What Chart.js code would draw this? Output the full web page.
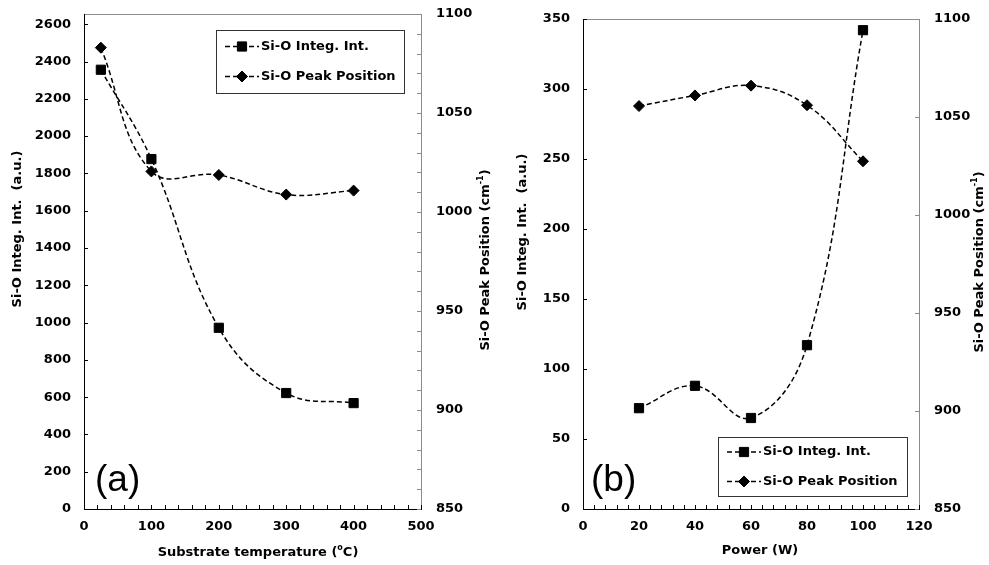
<!DOCTYPE html>
<html>
<head>
<meta charset="utf-8">
<title>Si-O band vs temperature and power</title>
<script src="https://cdn.jsdelivr.net/npm/chart.js@4.4.0/dist/chart.umd.min.js"></script>
<style>
    body { margin: 0; background: #ffffff; }
    .panel { position: absolute; top: 0; height: 565px; }
    #panelA { left: 0; width: 495px; }
    #panelB { left: 495px; width: 494px; }
</style>
</head>
<body>
<div class="panel" id="panelA"><canvas id="chartA"></canvas></div>
<div class="panel" id="panelB"><canvas id="chartB"></canvas></div>
<script>
// --- data ---
// (a) substrate temperature series
const tempC = [25, 100, 200, 300, 400];
const tempIntegInt = [2356, 1877, 972, 622, 568];
const tempPeakPos = [1083, 1020.5, 1018.7, 1008.8, 1010.8];

// (b) power series
const powerW = [20, 40, 60, 80, 100];
const powerIntegInt = [72, 88, 65, 117, 342];
const powerPeakPos = [1055.6, 1061, 1066, 1056, 1027.4];

// tick labels
const tempTicks = [0, 100, 200, 300, 400, 500];
const tempIntTicks = [0, 200, 400, 600, 800, 1000, 1200, 1400, 1600, 1800, 2000, 2200, 2400, 2600];
const powerTicks = [0, 20, 40, 60, 80, 100, 120];
const powerIntTicks = [0, 50, 100, 150, 200, 250, 300, 350];
const peakPosTicks = [850, 900, 950, 1000, 1050, 1100];

const seriesNames = ['Si-O Integ. Int.', 'Si-O Peak Position'];

const INK = '#000000';
const FRAME_GRAY = '#8c8c8c';
const FONT = 'DejaVu Sans';
const TEXT_SIZE = 13;

function hline(ctx, x1, x2, y, color) {
    ctx.strokeStyle = color;
    ctx.beginPath();
    ctx.moveTo(x1, Math.round(y) + 0.5);
    ctx.lineTo(x2, Math.round(y) + 0.5);
    ctx.stroke();
}

function vline(ctx, x, y1, y2, color) {
    ctx.strokeStyle = color;
    ctx.beginPath();
    ctx.moveTo(Math.round(x) + 0.5, y1);
    ctx.lineTo(Math.round(x) + 0.5, y2);
    ctx.stroke();
}

// text with superscript parts, centred on (cx, cy)
function drawRich(ctx, parts, cx, cy, rot, size) {
    const base = `bold ${size}px "${FONT}"`;
    const small = `bold ${Math.round(size * 0.62)}px "${FONT}"`;
    ctx.save();
    ctx.translate(cx, cy);
    ctx.rotate(rot);
    const widths = parts.map(p => {
        ctx.font = p.sup ? small : base;
        return ctx.measureText(p.t).width;
    });
    let x = -widths.reduce((a, b) => a + b, 0) / 2;
    ctx.fillStyle = INK;
    ctx.textAlign = 'left';
    ctx.textBaseline = 'middle';
    parts.forEach((p, i) => {
        ctx.font = p.sup ? small : base;
        ctx.fillText(p.t, x, p.sup ? -size * 0.38 : 0);
        x += widths[i];
    });
    ctx.restore();
}

// frame, inward tick marks, titles, legend box and panel letter
const figureDecor = {
    id: 'figureDecor',
    beforeDatasetsDraw(chart, args, opts) {
        const { ctx, chartArea: a, scales } = chart;
        ctx.save();
        ctx.lineWidth = 1;
        hline(ctx, a.left, a.right, a.top, FRAME_GRAY);
        vline(ctx, a.right, a.top, a.bottom, FRAME_GRAY);
        vline(ctx, a.left, a.top, a.bottom + 1, INK);
        hline(ctx, a.left, a.right + 1, a.bottom, INK);

        opts.marks.forEach(m => {
            const s = scales[m.axis];
            const first = s.ticks[0].value;
            const last = s.ticks[s.ticks.length - 1].value;
            const n = Math.round((last - first) / m.step);
            for (let i = 0; i <= n; i++) {
                const p = Math.round(s.getPixelForValue(first + i * m.step)) + 0.5;
                ctx.strokeStyle = m.color;
                ctx.beginPath();
                if (m.axis === 'x') {
                    ctx.moveTo(p, a.bottom);
                    ctx.lineTo(p, a.bottom - 4);
                } else if (s.position === 'left') {
                    ctx.moveTo(a.left, p);
                    ctx.lineTo(a.left + 4, p);
                } else {
                    ctx.moveTo(a.right, p);
                    ctx.lineTo(a.right - 4, p);
                }
                ctx.stroke();
            }
        });
        ctx.restore();
    },
    afterDraw(chart, args, opts) {
        const ctx = chart.ctx;
        ctx.save();

        opts.titles.forEach(t => drawRich(ctx, t.parts, t.x, t.y, t.rot, TEXT_SIZE));

        // legend
        const lg = opts.legend;
        ctx.lineWidth = 1;
        ctx.strokeStyle = '#333333';
        ctx.strokeRect(lg.x + 0.5, lg.y + 0.5, lg.w, lg.h);
        chart.data.datasets.forEach((ds, i) => {
            const y = lg.y + lg.rows[i];
            ctx.strokeStyle = INK;
            ctx.fillStyle = INK;
            ctx.lineWidth = ds.borderWidth;
            ctx.setLineDash(ds.borderDash);
            ctx.beginPath();
            ctx.moveTo(lg.x + 9, y);
            ctx.lineTo(lg.x + 43, y);
            ctx.stroke();
            ctx.setLineDash([]);
            ctx.lineWidth = 1;
            Chart.helpers.drawPoint(ctx, {
                pointStyle: ds.pointStyle,
                radius: ds.pointRadius,
                borderWidth: 1,
                rotation: 0
            }, lg.x + 26, y);
            ctx.font = `bold ${TEXT_SIZE}px "${FONT}"`;
            ctx.textAlign = 'left';
            ctx.textBaseline = 'middle';
            ctx.fillText(ds.label, lg.x + 45, y);
        });

        // panel letter
        ctx.font = '37px "Liberation Sans", Arial, sans-serif';
        ctx.fillStyle = INK;
        ctx.textAlign = 'left';
        ctx.textBaseline = 'alphabetic';
        ctx.fillText(opts.letter.text, opts.letter.x, opts.letter.y);
        ctx.restore();
    }
};

function tickAxis(ticks, min, max, position, pad, fit) {
    return {
        type: 'linear',
        position: position,
        min: min,
        max: max,
        afterBuildTicks: scale => { scale.ticks = ticks.map(v => ({ value: v })); },
        afterFit: scale => {
            // keep the plot area where the figure has it
            fit(scale);
            scale.paddingTop = 0;
            scale.paddingBottom = 0;
            scale.paddingLeft = 0;
            scale.paddingRight = 0;
        },
        grid: { display: false, drawTicks: false },
        border: { display: false },
        ticks: {
            color: INK,
            font: { family: FONT, size: TEXT_SIZE, weight: 'bold' },
            padding: pad,
            maxRotation: 0,
            autoSkip: false,
            callback: v => String(v)
        }
    };
}

function makePanel(canvasId, cfg) {
    const ctx = document.getElementById(canvasId).getContext('2d');
    const toPoints = (xs, ys) => xs.map((x, i) => ({ x: x, y: ys[i] }));
    const common = {
        borderColor: INK,
        backgroundColor: INK,
        borderWidth: 1.5,
        borderDash: [5, 3],
        pointBorderColor: INK,
        pointBackgroundColor: INK,
        pointBorderWidth: 1,
        tension: 0.4,
        fill: false
    };

    return new Chart(ctx, {
        type: 'line',
        data: {
            datasets: [
                Object.assign({}, common, {
                    label: seriesNames[0],
                    data: toPoints(cfg.xs, cfg.integ),
                    yAxisID: 'y',
                    pointStyle: 'rect',
                    pointRadius: 6.5
                }),
                Object.assign({}, common, {
                    label: seriesNames[1],
                    data: toPoints(cfg.xs, cfg.peak),
                    yAxisID: 'y1',
                    pointStyle: 'rectRot',
                    pointRadius: 5.5
                })
            ]
        },
        options: {
            responsive: true,
            maintainAspectRatio: false,
            animation: false,
            layout: { padding: { top: cfg.top, left: 0, right: 0, bottom: 0 } },
            plugins: {
                legend: { display: false },
                tooltip: { enabled: false },
                figureDecor: cfg.decor
            },
            scales: {
                x: tickAxis(cfg.xTicks, cfg.xTicks[0], cfg.xTicks[cfg.xTicks.length - 1], 'bottom', 10,
                    s => { s.height = cfg.xHeight; }),
                y: tickAxis(cfg.yTicks, 0, cfg.yMax, 'left', 13, s => { s.width = cfg.leftW; }),
                y1: tickAxis(peakPosTicks, 850, 1100, 'right', 15, s => { s.width = cfg.rightW; })
            }
        },
        plugins: [figureDecor]
    });
}

makePanel('chartA', {
    xs: tempC, integ: tempIntegInt, peak: tempPeakPos,
    xTicks: tempTicks, yTicks: tempIntTicks, yMax: 2655,
    top: 14, leftW: 84, rightW: 74, xHeight: 56,
    decor: {
        marks: [
            { axis: 'x', step: 20, color: INK },
            { axis: 'y', step: 200, color: INK },
            { axis: 'y1', step: 10, color: FRAME_GRAY }
        ],
        titles: [
            { parts: [{ t: 'Si-O Integ. Int.  (a.u.)' }], x: 18, y: 229, rot: -Math.PI / 2 },
            { parts: [{ t: 'Si-O Peak Position (cm' }, { t: '-1', sup: true }, { t: ')' }], x: 486, y: 260, rot: -Math.PI / 2 },
            { parts: [{ t: 'Substrate temperature (' }, { t: 'o', sup: true }, { t: 'C)' }], x: 258, y: 553, rot: 0 }
        ],
        legend: { x: 216, y: 30, w: 188, h: 63, rows: [16.5, 46.5] },
        letter: { text: '(a)', x: 95, y: 491 }
    }
});

makePanel('chartB', {
    xs: powerW, integ: powerIntegInt, peak: powerPeakPos,
    xTicks: powerTicks, yTicks: powerIntTicks, yMax: 350,
    top: 19, leftW: 88, rightW: 70, xHeight: 56,
    decor: {
        marks: [
            { axis: 'x', step: 4, color: INK },
            { axis: 'y', step: 50, color: INK },
            { axis: 'y1', step: 50, color: FRAME_GRAY }
        ],
        titles: [
            { parts: [{ t: 'Si-O Integ. Int.  (a.u.)' }], x: 28, y: 232, rot: -Math.PI / 2 },
            { parts: [{ t: 'Si-O Peak Position (cm' }, { t: '-1', sup: true }, { t: ')' }], x: 485, y: 262, rot: -Math.PI / 2 },
            { parts: [{ t: 'Power (W)' }], x: 265, y: 551, rot: 0 }
        ],
        legend: { x: 223, y: 437, w: 189, h: 59, rows: [15, 44.5] },
        letter: { text: '(b)', x: 96, y: 491 }
    }
});
</script>
</body>
</html>
